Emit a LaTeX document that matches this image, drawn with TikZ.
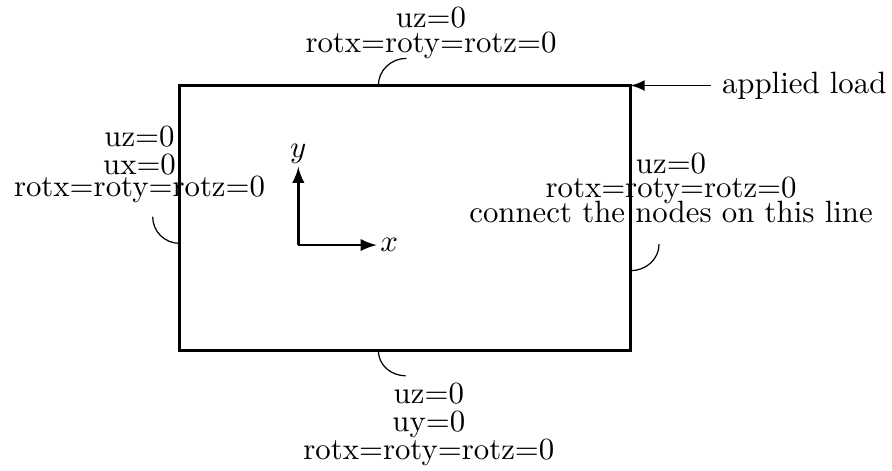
\documentclass[tikz,border=0pt]{standalone}
\begin{document}
\begin{tikzpicture}[
    >=latex,
    bc/.style={align=center, inner sep=0pt},
    pinline/.style={line width=0.4pt}
  ]
  \useasboundingbox (-2.048,-1.364) rectangle (8.130,4.000);

  % ========== plate ==========
  \draw[thick] (0,0) rectangle (5.146,3.024);

  % points on the edges where the conditions act
  \coordinate (pT) at (2.269,3.024);
  \coordinate (pB) at (2.269,0);
  \coordinate (pL) at (0,1.223);
  \coordinate (pR) at (5.146,0.911);
  \coordinate (corner) at (5.146,3.024);

  % ========== axes ==========
  \coordinate (O) at (1.356,1.204);
  \node[right, inner sep=1pt] (xlab) at (2.250,1.204) {$x$};
  \node[above, inner sep=1pt] (ylab) at (1.356,2.097) {$y$};
  \draw[thick, ->] (O) -- (xlab.west);
  \draw[thick, ->] (O) -- (ylab.south);

  % ========== boundary conditions ==========
  \node[bc, anchor=south] (topBC) at (2.870,3.323)
       {uz=0\\[-3.9pt]rotx=roty=rotz=0};
  \node[bc, anchor=south] (leftBC) at (-0.456,1.680)
       {uz=0\\[-3.14pt]ux=0\\[-4.76pt]rotx=roty=rotz=0};
  \node[bc, anchor=south] (rightBC) at (5.609,1.451)
       {uz=0\\[-4.21pt]rotx=roty=rotz=0\\[-3.88pt]connect the nodes on this line};
  \node[bc, anchor=north] (botBC) at (2.845,-0.358)
       {uz=0\\[-2.81pt]uy=0\\[-2.91pt]rotx=roty=rotz=0};

  % ends of the pin lines below/above the texts
  \coordinate (eT) at (2.590,3.334);
  \coordinate (eL) at (-0.306,1.527);
  \coordinate (eR) at (5.472,1.215);
  \coordinate (eB) at (2.581,-0.288);

  \draw[pinline] (pT) to[out=90, in=180] (eT);
  \draw[pinline] (pL) to[out=180, in=-90] (eL);
  \draw[pinline] (pR) to[out=0, in=-90] (eR);
  \draw[pinline] (pB) to[out=-90, in=180] (eB);

  % ========== load ==========
  \node[right] (load) at (6.067,3.024) {applied load};
  \draw[semithick, ->] (load.west) -- (corner);

\end{tikzpicture}
\end{document}
